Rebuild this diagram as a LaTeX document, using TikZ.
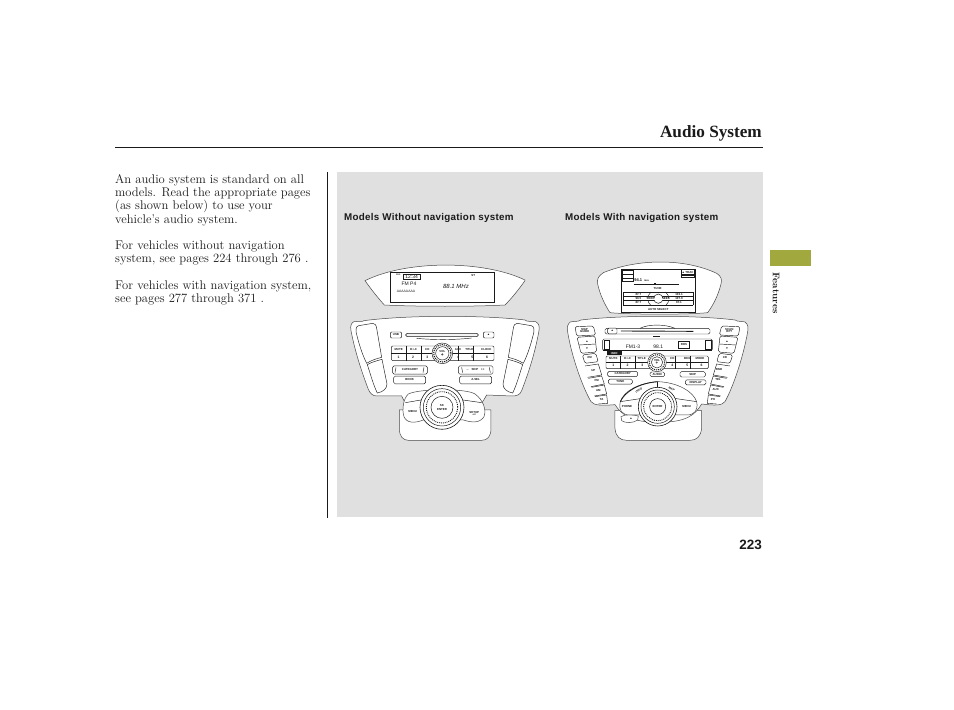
\documentclass[tikz,border=0pt]{standalone}
\usepackage{fontspec}
\setmainfont{Latin Modern Roman}
\newfontfamily\lab{Liberation Sans}
\newfontfamily\capf[LetterSpace=3]{Liberation Sans}
\newfontfamily\heads{Liberation Serif}
\definecolor{panel}{HTML}{E0E0E0}
\definecolor{olive}{HTML}{A0A83E}
\definecolor{ink}{HTML}{1A1A1A}
\tikzset{
 bodyt/.style={anchor=base west,inner sep=0,font=\fontsize{12.6}{14}\selectfont,text=ink},
 captext/.style={anchor=base west,inner sep=0,font=\capf\bfseries\fontsize{9.8}{11}\selectfont,text=ink},
 ln/.style={draw=ink,line width=.45pt},
 shell/.style={draw=ink!80,line width=.5pt,fill=white},
 btn/.style={draw=ink,line width=.45pt,rounded corners=1.2pt,fill=white},
 tiny/.style={inner sep=0,font=\lab\bfseries\fontsize{2.9}{3}\selectfont,text=ink},
 disp/.style={inner sep=0,font=\lab\fontsize{5}{5}\selectfont,text=ink},
 unitA/.style={shift={(340,260)},x=.3333pt,y=-.3333pt},
 unitB/.style={shift={(555,260)},x=.3333pt,y=-.3333pt},
 bsize/.style n args={2}{minimum width=#1/3,minimum height=#2/3},
}
\begin{document}
\begin{tikzpicture}[x=1pt,y=-1pt]
\useasboundingbox (0,0) rectangle (954,710);
\fill[white] (0,0) rectangle (954,710);
\fill[panel] (337,172) rectangle (763,517);
\fill[olive] (770,250) rectangle (811,266);
\draw[ink,line width=.9pt] (115,147) -- (763,147);
\draw[ink,line width=.9pt] (327.5,172) -- (327.5,518);
\node[anchor=base east,inner sep=0,font=\heads\bfseries\fontsize{17.2}{20}\selectfont,text=ink] (title) at (762,137) {Audio System};
\node[bodyt] (t1) at (115,183) {An audio system is standard on all};
\node[bodyt] (t2) at (115,196) {models. Read the appropriate pages};
\node[bodyt] (t3) at (115,209.5) {(as shown below) to use your};
\node[bodyt] (t4) at (115,223) {vehicle’s audio system.};
\node[bodyt] (t5) at (115,249) {For vehicles without navigation};
\node[bodyt] (t6) at (115,262.5) {system, see pages 224 through 276 .};
\node[bodyt] (t7) at (115,289) {For vehicles with navigation system,};
\node[bodyt] (t8) at (115,302.5) {see pages 277 through 371 .};
\node[captext] (c1) at (344,220.5) {Models Without navigation system};
\node[captext] (c2) at (565,220.5) {Models With navigation system};
\node[anchor=base east,inner sep=0,font=\lab\bfseries\fontsize{13.5}{15}\selectfont,text=ink] (pg) at (762,549) {223};
\node[rotate=-90,inner sep=0,font=\bfseries\fontsize{9.6}{11}\selectfont,text=ink] (feat) at (776,293) {Features};

% ---------- unit without navigation ----------
\begin{scope}[unitA]
 % hood
 \draw[shell] (75,62) .. controls (200,0) and (430,0) .. (555,60) -- (555,62)
   .. controls (535,90) and (515,115) .. (495,135) .. controls (400,140) and (230,140) .. (133,135)
   .. controls (115,115) and (95,90) .. (75,62) -- cycle;
 \draw[draw=ink,line width=.8pt] (152,38) rectangle (464,127);
 \draw[ln] (190,43) rectangle (240,58);
 \node[tiny] (a0) at (175,45) {\fontsize{2}{2}\selectfont PRG};
 \node[disp] (a1) at (215,51) {12:34};
 \node[disp] (a2) at (207,72) {FM P4};
 \node[disp,font=\lab\itshape\fontsize{6}{6}\selectfont] (a3) at (348,78) {88.1 MHz};
 \node[tiny,font=\lab\fontsize{3.4}{3}\selectfont] (a4) at (198,95) {AAAAAAAA};
 \node[tiny] (a5) at (400,45) {ST};
 % stand
 \draw[shell] (178,450) -- (178,505) .. controls (178,530) and (190,541) .. (205,541) -- (425,541)
   .. controls (442,541) and (453,530) .. (453,505) -- (453,450) -- cycle;
 % faceplate
 \draw[shell] (72,182) .. controls (200,165) and (430,165) .. (555,180)
   .. controls (560,186) and (575,183) .. (587,185) .. controls (597,190) and (599,200) .. (597,212)
   .. controls (585,280) and (565,340) .. (545,392) .. controls (540,405) and (530,408) .. (515,408)
   -- (440,405) .. controls (420,440) and (400,480) .. (310,482) .. controls (220,480) and (200,440) .. (185,408)
   -- (110,408) .. controls (98,408) and (90,400) .. (85,388)
   .. controls (65,335) and (45,275) .. (33,212) .. controls (30,198) and (34,188) .. (42,185)
   .. controls (55,183) and (68,186) .. (72,182) -- cycle;
 % wing windows
 \foreach \m/\o in {1/0,-1/630}{
 \begin{scope}[shift={(\o,0)},x=\m*.3333pt]
  \draw[ln] (48,215) .. controls (47,200) and (52,197) .. (62,196) -- (98,190) .. controls (106,190) and (108,195) .. (110,205)
     -- (125,292) .. controls (110,296) and (95,300) .. (80,310) .. controls (65,280) and (55,245) .. (48,215) -- cycle;
  \draw[ln] (82,314) .. controls (95,306) and (112,302) .. (126,298) -- (141,372) .. controls (141,385) and (130,396) .. (112,399)
     .. controls (102,380) and (92,345) .. (82,314) -- cycle;
 \end{scope}}
 % cd row
 \node[btn,bsize={34}{18},tiny] (ausb) at (168,225) {USB};
 \draw[ln,rounded corners=1.5pt,fill=panel!40] (197,220) rectangle (415,230);
 \draw[ln] (230,235) .. controls (280,240) and (345,240) .. (395,234);
 \node[btn,bsize={32}{18},tiny] (aej) at (446,225) {▲};
 % presets
 \draw[btn] (154,258) rectangle (462,302);
 \draw[ln] (154,280) -- (462,280);
 \foreach \x in {198,244,354,400}{\draw[ln] (\x,258) -- (\x,302);}
 \foreach \x/\t [count=\i] in {176/MUTE,221/D+{-}C,262/CD,354/AUX,388/TITLE,439/CLOCK}{
   \node[tiny] (atop\i) at (\x,269) {\t};}
 \foreach \x/\t in {176/1,219/2,262/3,354/4,397/5,441/6}{
   \node[tiny,font=\lab\bfseries\fontsize{3.4}{3}\selectfont] (an\t) at (\x,293) {\t};}
 \draw[ln] (180,279) -- (435,279);
 \draw[ink,fill=white,line width=.45pt] (307,280) circle (31);
 \draw[ink,fill=white,line width=1.1pt,densely dotted] (307,280) circle (26);
 \draw[ink,fill=white,line width=.45pt] (307,280) circle (20);
 \node[tiny] (avol) at (307,274) {VOL};
 \node[tiny,font=\lab\bfseries\fontsize{5}{5}\selectfont] (aplus) at (307,285) {+};
 % category etc
 \node[btn,bsize={104}{25},tiny,rounded corners=1.5pt] (acat) at (210,330) {CATEGORY};
 \node[btn,bsize={104}{25},tiny,rounded corners=1.5pt] (askip) at (407,330) {{-}{-}\quad SKIP\quad {+}{+}};
 \node[btn,bsize={96}{23},tiny,rounded corners=1.5pt] (abook) at (209,360) {BOOK};
 \node[btn,bsize={96}{23},tiny,rounded corners=1.5pt] (aasel) at (407,360) {A.SEL};
 \foreach \x in {168,252}{\draw[ln] (\x,322) -- (\x-3,338);}
 \foreach \x in {365,448}{\draw[ln] (\x,322) -- (\x+3,338);}
 % lower knob
 \draw[shell] (205,402) .. controls (240,385) and (380,385) .. (405,402) .. controls (430,420) and (440,450) .. (432,470)
   .. controls (420,490) and (395,488) .. (370,480) -- (250,480) .. controls (225,490) and (200,490) .. (192,470)
   .. controls (185,450) and (190,415) .. (205,402) -- cycle;
 \draw[ln] (255,418) -- (196,428); \draw[ln] (355,418) -- (425,428);
 \node[tiny] (amenu) at (218,455) {MENU};
 \node[tiny] (asetup) at (403,458) {SETUP};
 \node[tiny] (asetup2) at (403,465) {\fontsize{2}{2}\selectfont A/Z};
 \draw[ink,fill=white,line width=.6pt] (306,442) circle (66);
 \draw[ink,fill=white,line width=.5pt] (306,442) circle (56);
 \draw[ink,fill=white,line width=.9pt,densely dotted] (306,442) circle (47);
 \draw[ink,fill=white,line width=.5pt] (306,442) circle (33);
 \node[tiny] (asel) at (306,436) {SK};
 \node[tiny] (aent) at (306,449) {ENTER};
\end{scope}

% ---------- unit with navigation ----------
\begin{scope}[unitB]
 \draw[shell] (128,72) .. controls (125,58) and (130,48) .. (145,38) .. controls (250,-5) and (390,-5) .. (485,40)
   .. controls (498,48) and (502,58) .. (498,72) .. controls (490,105) and (475,135) .. (458,158)
   .. controls (400,164) and (230,164) .. (165,158) .. controls (150,135) and (135,105) .. (128,72) -- cycle;
 \draw[ln,line width=.5pt] (200,28) -- (420,28) -- (420,158) -- (200,158) -- cycle;
 \draw[ln] (203,32) rectangle (235,65);
 \draw[ln] (203,43) -- (235,43); \draw[ln] (203,54) -- (235,54);
 \node[tiny] (b1) at (250,60) {\lab\fontsize{4}{4}\selectfont 94.1};
 \node[tiny] (b1b) at (275,61) {\fontsize{2.2}{2}\selectfont MHz};
 \node[tiny] (b2) at (398,36) {▲ TRAC};
 \draw[ln] (380,29) rectangle (418,43);
 \draw[ln] (380,46) rectangle (418,53);
 \draw[ink,line width=.8pt] (237,73) -- (372,73);
 \fill[ink] (298,69) rectangle (303,73);
 \draw[ln] (205,97) -- (414,97);
 \draw[ink,line width=.6pt] (205,110) -- (414,110);
 \draw[ink,line width=.8pt] (205,122) -- (414,122);
 \draw[ink,line width=.6pt] (205,135) -- (414,135);
 \draw[ln] (205,97) -- (205,135); \draw[ln] (414,97) -- (414,135);
 \foreach \x/\y/\t [count=\i] in {250/103/87.7,250/116/99.5,250/128/87.7,372/103/103.1,372/116/107.9,372/128/97.1}{
   \node[tiny] (bp\i) at (\x,\y) {\t};}
 \draw[ln] (288,96) .. controls (275,108) and (275,125) .. (288,137);
 \draw[ln] (332,96) .. controls (345,108) and (345,125) .. (332,137);
 \draw[ink,fill=white,line width=.5pt] (310,116) circle (14);
 \node[tiny] (bm1) at (308,87) {TUNE};
 \node[tiny,fill=white] (bm2) at (287,116) {SEEK};
 \node[tiny,fill=white] (bm3) at (333,116) {SEEK};
 \node[tiny] (bm4) at (310,150) {AUTO SELECT};
 % stand
 \draw[shell] (180,452) -- (180,505) .. controls (182,530) and (195,541) .. (215,541) -- (405,541)
   .. controls (425,541) and (437,530) .. (440,505) -- (440,452) -- cycle;
 % faceplate
 \draw[shell] (78,180) .. controls (200,165) and (420,165) .. (540,180)
   .. controls (548,186) and (562,183) .. (570,186) .. controls (580,192) and (580,205) .. (578,216)
   .. controls (565,290) and (535,380) .. (510,425) .. controls (500,437) and (480,437) .. (440,432)
   .. controls (420,465) and (395,487) .. (310,487) .. controls (230,487) and (200,465) .. (180,434)
   .. controls (140,437) and (118,437) .. (108,425)
   .. controls (82,380) and (50,290) .. (38,216) .. controls (35,205) and (37,192) .. (46,186)
   .. controls (55,183) and (70,186) .. (78,180) -- cycle;
 % cd
 \draw[ln,rounded corners=1.5pt] (150,205) rectangle (465,222);
 \node[btn,bsize={28}{17},tiny] (bej) at (172,213) {▲};
 \draw[ink,line width=.9pt] (198,213) -- (415,214);
 \draw[ln] (255,205) .. controls (280,192) and (330,192) .. (360,205);
 \draw[ln] (295,230) -- (315,230);
 % lcd
 \draw[ln,rounded corners=1.5pt] (143,237) rectangle (472,272);
 \draw[ln] (143,270) -- (472,270);
 \draw[ln] (148,240) rectangle (163,268); \draw[ln] (450,240) rectangle (468,268);
 \node[disp] (bl1) at (234,259) {FM1-3};
 \node[disp] (bl2) at (310,259) {98.1};
 \draw[ln] (370,243) rectangle (404,264);
 \node[tiny] (bl3) at (387,253) {RDS};
 \fill[ink] (155,274) rectangle (200,285);
 \node[inner sep=0,font=\lab\bfseries\fontsize{2.8}{3}\selectfont,text=white] (bl4) at (178,280) {INFO};
 % presets
 \draw[btn] (153,288) rectangle (460,326);
 \draw[ln] (153,306) -- (460,306);
 \foreach \x in {197,240,360,405}{\draw[ln] (\x,288) -- (\x,326);}
 \foreach \x/\t [count=\i] in {175/MUTE,218/D+{-}C,260/TITLE,352/CD,397/BKG,435/MODE}{
   \node[tiny] (btop\i) at (\x,297) {\t};}
 \foreach \x/\t in {175/1,218/2,262/3,352/4,397/5,440/6}{
   \node[tiny,font=\lab\bfseries\fontsize{3.4}{3}\selectfont] (bn\t) at (\x,316) {\t};}
 \draw[ink,fill=white,line width=.45pt] (306,307) circle (28);
 \draw[ink,fill=white,line width=1pt,densely dotted] (306,307) circle (23);
 \draw[ink,fill=white,line width=.45pt] (306,307) circle (17);
 \node[tiny,font=\lab\bfseries\fontsize{4.5}{4}\selectfont] (bvol) at (306,310) {+};
 \node[tiny] (bvol2) at (306,302) {VOL};
 \node[btn,bsize={44}{14},tiny,rounded corners=1.5pt] (baudio) at (307,343) {AUDIO};
 \node[btn,bsize={90}{16},tiny,rounded corners=1.5pt] (bcat) at (203,342) {CATEGORY};
 \node[btn,bsize={72}{15},tiny,rounded corners=1.5pt] (bturn) at (196,365) {TUNE};
 \node[btn,bsize={76}{16},tiny,rounded corners=1.5pt] (bskip) at (413,343) {SKIP};
 \node[btn,bsize={62}{15},tiny,rounded corners=1.5pt] (bdisp) at (422,367) {DISPLAY};
 % side buttons
 \foreach \m/\o in {1/0,-1/615}{
 \begin{scope}[shift={(\o,0)},x=\m*.3333pt]
  \draw[ln,rounded corners=1.5pt] (60,200) -- (115,198) -- (122,225) -- (65,228) -- cycle;
  \draw[ln,rounded corners=1.5pt] (66,232) -- (120,228) -- (125,276) -- (78,280) -- cycle;
  \draw[ln] (72,255) -- (122,252);
  \draw[ln,rounded corners=1.5pt] (82,285) -- (122,280) -- (130,305) -- (90,310) -- cycle;
  \draw[ln] (90,318) -- (130,312) -- (140,345) -- (98,352);
  \draw[ln] (100,355) -- (140,348) -- (148,372) -- (108,380);
  \draw[ln] (110,382) -- (148,375) -- (155,402) -- (118,408);
  \draw[ln] (120,410) -- (155,405) -- (158,430) -- (130,432);
 \end{scope}}
 \node[tiny] (bs1) at (89,208) {MAP};
 \node[tiny] (bs1b) at (89,214) {GUIDE};
 \node[tiny] (bs2) at (96,244) {▲};
 \node[tiny] (bs3) at (96,266) {▼};
 \node[tiny] (bs4) at (104,294) {XM};
 \node[tiny] (bs5) at (115,332) {UP};
 \node[tiny] (bs6) at (125,362) {FM};
 \node[tiny] (bs7) at (130,391) {AM};
 \node[tiny] (bs8) at (140,420) {TA};
 \node[tiny] (bs9) at (523,208) {SCAN};
 \node[tiny] (bs9b) at (523,214) {RPT};
 \node[tiny] (bs10) at (516,244) {▲};
 \node[tiny] (bs11) at (516,266) {▼};
 \node[tiny] (bs12) at (510,294) {CD};
 \node[tiny] (bs13) at (492,328) {RND};
 \node[tiny] (bs14) at (489,358) {TEL};
 \node[tiny] (bs15) at (482,390) {AUX};
 \node[tiny] (bs16) at (474,420) {PH};
 % hand piece
 \draw[shell] (198,470) .. controls (210,462) and (235,464) .. (250,468) -- (248,480) .. controls (235,490) and (210,490) .. (200,482) -- cycle;
 \node[tiny] (bk) at (228,477) {▲};
 % knob cluster
 \draw[shell] (196,425) .. controls (205,395) and (250,368) .. (310,365) .. controls (370,368) and (415,395) .. (425,425)
   .. controls (430,450) and (420,465) .. (395,465) -- (225,465) .. controls (200,465) and (190,450) .. (196,425) -- cycle;
 \draw[ln] (196,425) -- (262,415); \draw[ln] (425,425) -- (358,415);
 \draw[ink,line width=.8pt] (308,365) -- (308,392);
 \draw[ink,line width=.8pt] (196,425) .. controls (210,395) and (250,370) .. (308,365);
 \node[tiny,rotate=30] (bq1) at (252,392) {INFO};
 \node[tiny,rotate=-30] (bq2) at (350,387) {MAP};
 \node[tiny] (bq3) at (216,440) {PHONE};
 \node[tiny] (bq4) at (395,440) {MENU};
 \draw[ink,fill=white,line width=.6pt] (308,440) circle (58);
 \draw[ink,fill=white,line width=.5pt] (308,440) circle (50);
 \draw[ink,fill=white,line width=.9pt,densely dotted] (308,440) circle (42);
 \draw[ink,fill=white,line width=.5pt] (308,440) circle (24);
 \node[tiny] (bent) at (308,440) {ENTER};
\end{scope}
\end{tikzpicture}
\end{document}
